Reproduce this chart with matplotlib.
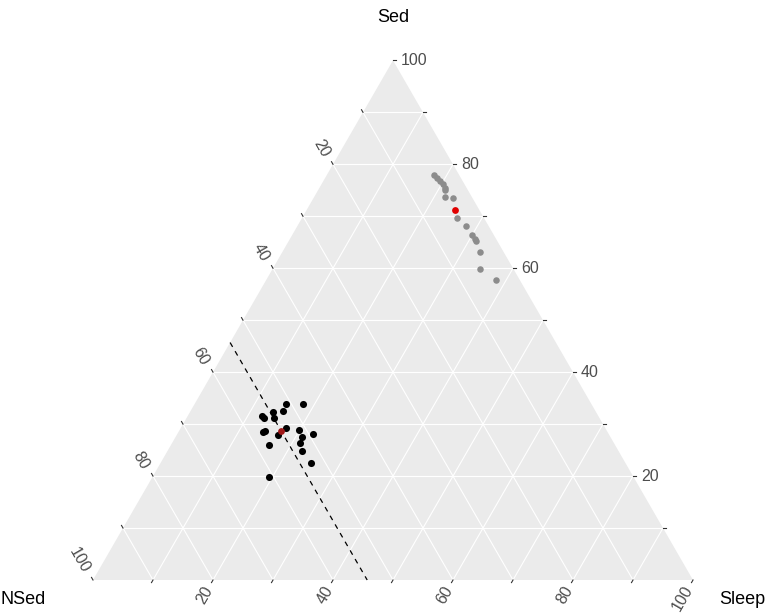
import numpy as np
import matplotlib
matplotlib.use("Agg")
import matplotlib.pyplot as plt

# ---------------- data (percent compositions) ----------------
grey_nsed  = [4.3, 4.1, 3.8, 3.5, 3.6, 3.9, 4.4, 3.2, 4.5, 3.7, 3.7, 3.5, 3.5, 4.0, 5.6, 4.0]
grey_sed   = [77.9, 77.3, 76.7, 76.2, 75.5, 75.0, 73.8, 73.6, 69.7, 68.2, 66.4, 65.6, 65.2, 63.1, 59.8, 57.7]
grey_sleep = [17.8, 18.6, 19.5, 20.3, 20.9, 21.1, 21.8, 23.2, 25.8, 28.1, 29.9, 30.9, 31.3, 32.9, 34.6, 38.3]

black_nsed  = [50.9, 48.1, 52.1, 53.8, 54.3, 56.1, 55.9, 57.0, 57.5, 53.2, 55.1, 51.2, 49.2, 51.5, 52.4, 57.7, 52.8, 52.5, 60.9]
black_sed   = [33.8, 33.8, 32.6, 32.3, 31.1, 31.5, 31.2, 28.7, 28.4, 29.3, 28.0, 28.8, 28.1, 27.5, 26.3, 26.0, 24.9, 22.5, 19.8]
black_sleep = [15.3, 18.1, 15.3, 13.9, 14.6, 12.4, 12.9, 14.3, 14.1, 17.5, 16.9, 20.0, 22.7, 21.0, 21.3, 16.3, 22.3, 25.0, 19.4]

grey_mean  = [4.0, 71.2, 24.8]    # NSed, Sed, Sleep
black_mean = [54.3, 28.7, 17.0]   # NSed, Sed, Sleep
dashed_nsed = 54.3

ticks = [10, 20, 30, 40, 50, 60, 70, 80, 90, 100]
axis_titles = ["Sed", "NSed", "Sleep"]

# ---------------- ternary helper ----------------
S3 = np.sqrt(3) / 2


def tern(nsed, sed, sleep):
    nsed, sed, sleep = (np.asarray(v, dtype=float) for v in (nsed, sed, sleep))
    tot = nsed + sed + sleep
    sed = 100 * sed / tot
    sleep = 100 * sleep / tot
    return sleep + sed / 2, sed * S3


PX = 6.0  # pixels per unit
fig = plt.figure(figsize=(7.77, 6.14), dpi=100)
ax = fig.add_axes([0, 0, 1, 1])
ax.set_xlim(-93 / PX, (777 - 93) / PX)
ax.set_ylim(-(614 - 580) / PX, 580 / PX)
ax.axis("off")

# background triangle
tx, ty = tern([100, 0, 0], [0, 100, 0], [0, 0, 100])
ax.fill(tx, ty, color="#EBEBEB", zorder=0, lw=0)

# grid
for v in range(10, 100, 10):
    for a, b in [
        ((100 - v, v, 0), (0, v, 100 - v)),       # Sed const
        ((100 - v, 0, v), (0, 100 - v, v)),       # Sleep const
        ((v, 100 - v, 0), (v, 0, 100 - v)),       # NSed const
    ]:
        x, y = tern([a[0], b[0]], [a[1], b[1]], [a[2], b[2]])
        ax.plot(x, y, color="white", lw=0.8, zorder=1, solid_capstyle="butt")

tick_len = 3 / PX
tick_col = "#333333"
lab_col = "#4D4D4D"
lab_fs = 11.5
font = "Liberation Sans"

for v in ticks:
    # Sed axis: right edge
    x, y = tern(0, v, 100 - v)
    ax.plot([x, x + tick_len], [y, y], color=tick_col, lw=0.8, zorder=2)
    if v % 20 == 0:
        ax.text(x + 8 / PX, y, str(v), ha="left", va="center", color=lab_col,
                fontsize=lab_fs, family=font)
    # NSed axis: left edge
    x, y = tern(v, 100 - v, 0)
    d = np.array([-0.5, S3])
    ax.plot([x, x + d[0] * tick_len], [y, y + d[1] * tick_len], color=tick_col, lw=0.8, zorder=2)
    if v % 20 == 0:
        ax.text(x - 7.5 / PX, y + 8 / PX, str(v), ha="right", va="center", rotation=-60,
                rotation_mode="anchor", color=lab_col, fontsize=lab_fs, family=font)
    # Sleep axis: bottom edge
    x, y = tern(100 - v, 0, v)
    d = np.array([-0.5, -S3])
    ax.plot([x, x + d[0] * tick_len], [y, y + d[1] * tick_len], color=tick_col, lw=0.8, zorder=2)
    if v % 20 == 0:
        ax.text(x - 3.5 / PX, y - 7 / PX, str(v), ha="right", va="center", rotation=60,
                rotation_mode="anchor", color=lab_col, fontsize=lab_fs, family=font)

# axis titles
ax.text((393 - 93) / PX, (580 - 18) / PX, axis_titles[0], ha="center", va="center",
        fontsize=13, color="black", family=font)
ax.text((0 - 93) / PX, (580 - 600) / PX, axis_titles[1], ha="left", va="center",
        fontsize=13, color="black", family=font)
ax.text((719 - 93) / PX, (580 - 600) / PX, axis_titles[2], ha="left", va="center",
        fontsize=13, color="black", family=font)

# points
gx, gy = tern(grey_nsed, grey_sed, grey_sleep)
ax.scatter(gx, gy, s=22, color="#8C8C8C", lw=0, zorder=3)
bx, by = tern(black_nsed, black_sed, black_sleep)
ax.scatter(bx, by, s=26, color="black", lw=0, zorder=3)
mx, my = tern(*grey_mean)
ax.scatter([mx], [my], s=24, color="#E00000", lw=0, zorder=4)
mx, my = tern(*black_mean)
ax.scatter([mx], [my], s=24, color="#A01818", lw=0, zorder=4)

# dashed constant-NSed line
lx, ly = tern([dashed_nsed, dashed_nsed], [100 - dashed_nsed, 0], [0, 100 - dashed_nsed])
ax.plot(lx, ly, color="black", lw=0.9, ls=(0, (4, 4)), zorder=3)

fig.savefig("out.png", dpi=100)
